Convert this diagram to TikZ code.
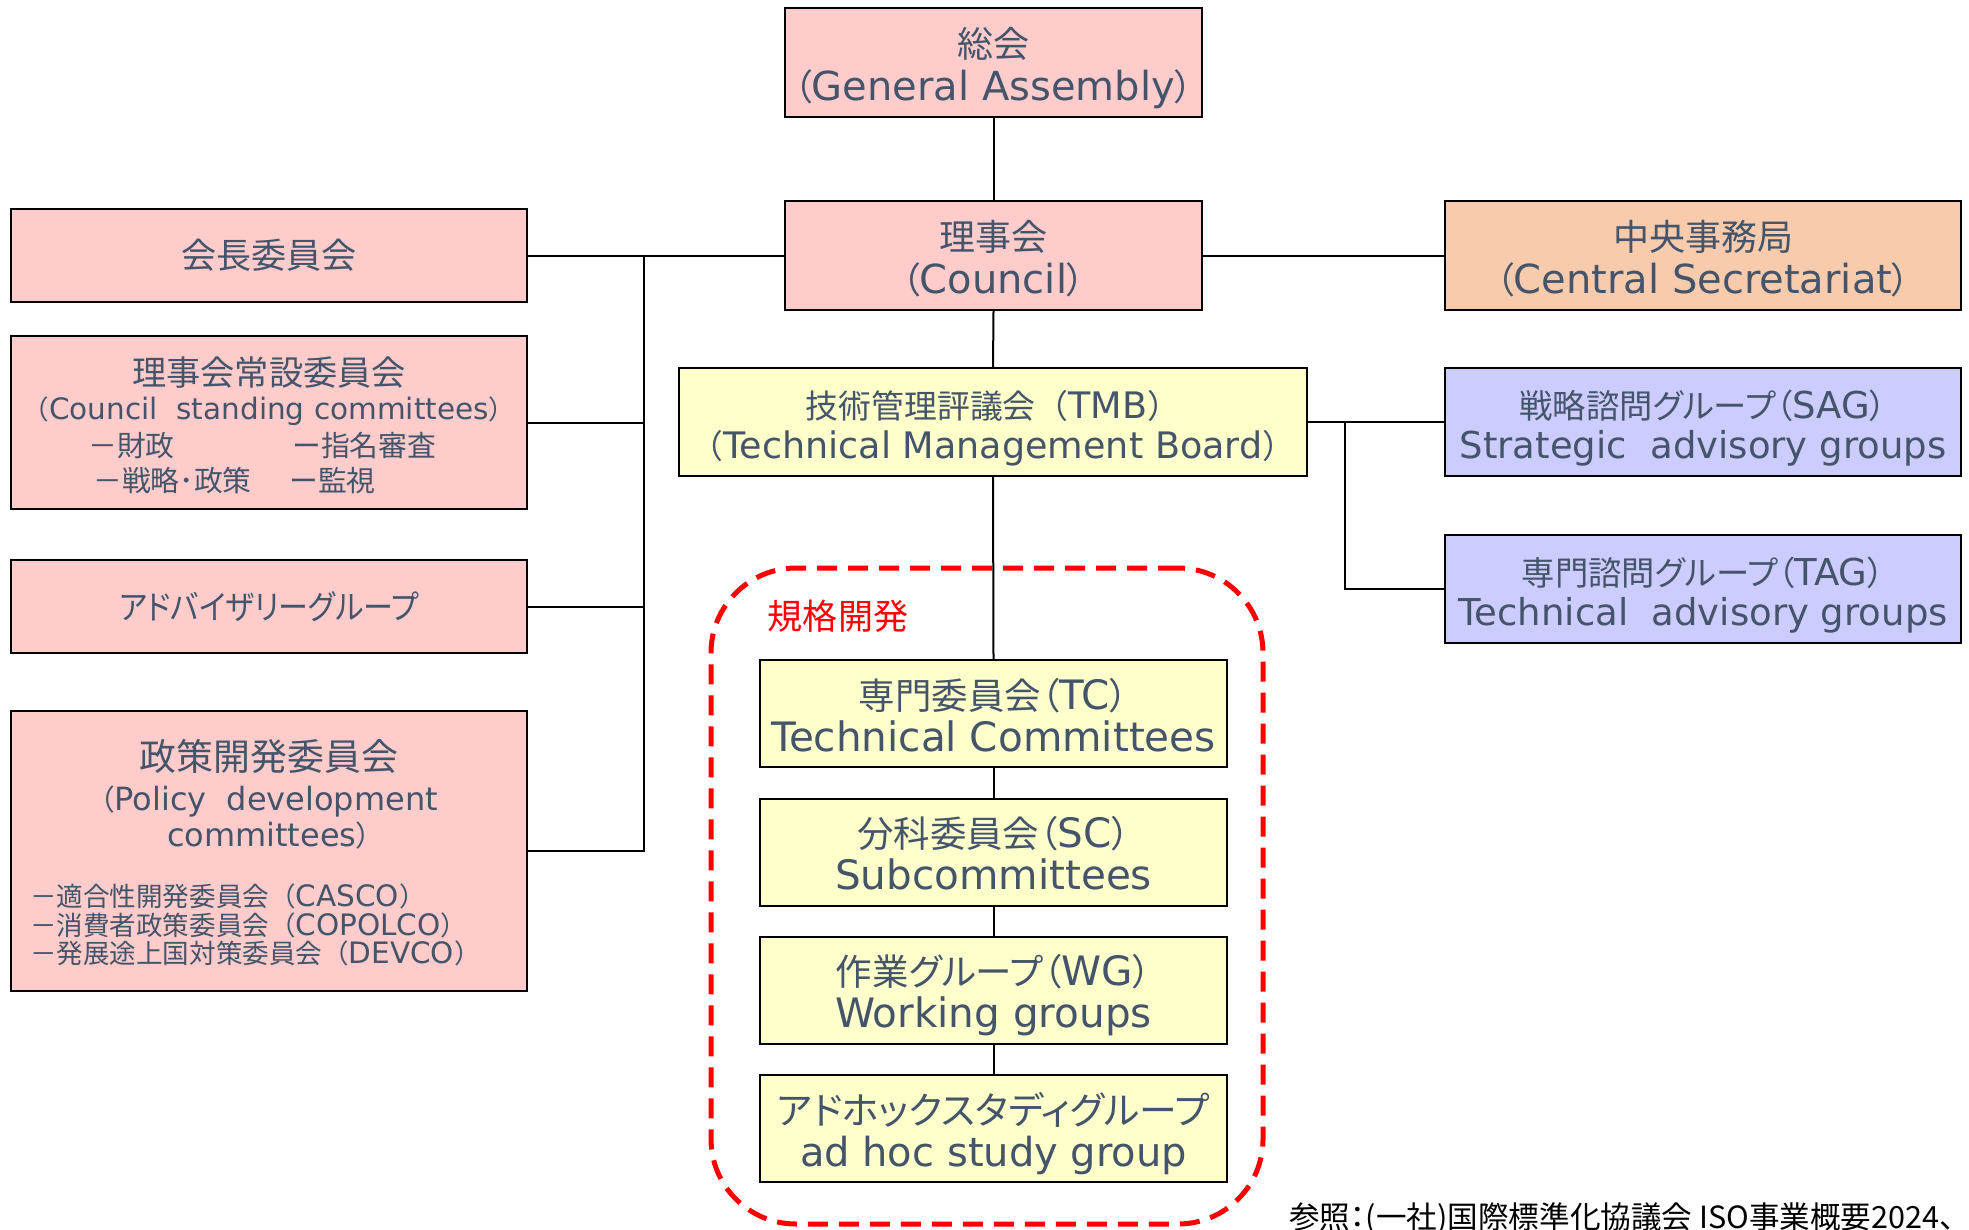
\documentclass[tikz,border=0pt]{standalone}
\usepackage{fontspec}
\setmainfont{DejaVu Sans}
\newfontfamily\jpfont[Scale=0.9]{Noto Sans CJK JP}
\newfontfamily\jppfont[Scale=0.9,RawFeature=+palt]{Noto Sans CJK JP}
\newcommand\jt[1]{{\jpfont #1}}
\newcommand\kt[1]{{\jppfont #1}}
\newcommand\fsz[2]{\fontsize{#1}{#2}\selectfont}
\newcommand\hst[1]{\rule{0pt}{#1pt}}
\newcommand\dst[1]{\rule[-#1pt]{0pt}{#1pt}}
\definecolor{txt}{HTML}{44546A}
\definecolor{pinkc}{HTML}{FFCCCC}
\definecolor{orangec}{HTML}{F8CBAD}
\definecolor{yellowc}{HTML}{FFFFCC}
\definecolor{lavc}{HTML}{CCCCFF}
\definecolor{devred}{HTML}{FF0000}
\begin{document}
\begin{tikzpicture}[x=1pt,y=-1pt,
  box/.style={draw=black, line width=2pt, text=txt, align=center, inner sep=0pt},
  pbox/.style={box, fill=pinkc},
  obox/.style={box, fill=orangec},
  ybox/.style={box, fill=yellowc},
  lbox/.style={box, fill=lavc},
  lbl/.style={text=txt, inner sep=0pt, align=center},
  conn/.style={draw=black, line width=2pt},
  devframe/.style={draw=devred, line width=5pt, dash pattern=on 20pt off 11pt, rounded corners=85pt, inner sep=0pt}
]
\useasboundingbox (0,0) rectangle (1969,1229);
\fill[white] (0,0) rectangle (1969,1229);

% dashed frame
\node[devframe, minimum width=552, minimum height=656] (dev) at (987,896) {};
\node[text=devred, inner sep=0pt, font=\fsz{39}{39}] (devlbl) at (838,616) {\jt{規格開発}};

% top column
\node[pbox, minimum width=417, minimum height=109, font=\fsz{40}{43}] (ga) at (993.5,62.5)
  {\hst{43}\jt{総会}\\\kt{（}General Assembly\kt{）}\dst{10}};
\node[pbox, minimum width=417, minimum height=109, font=\fsz{40}{43}] (council) at (993.5,255.5)
  {\hst{42}\jt{理事会}\\\kt{（}Council\kt{）}\dst{10}};
\node[obox, minimum width=516, minimum height=109, font=\fsz{40}{43}] (cs) at (1703,255.5)
  {\hst{43}\jt{中央事務局}\\\kt{（}Central Secretariat\kt{）}\dst{10}};

% left column
\node[pbox, minimum width=516, minimum height=93, font=\fsz{39}{43}] (pres) at (269,255.5)
  {\jt{会長委員会}};
\node[pbox, minimum width=516, minimum height=173] (stand) at (269,422.5) {};
\node[lbl, font=\fsz{38}{38}] (standT) at (269,373) {\jt{理事会常設委員会}};
\node[lbl, font=\fsz{29.5}{30}] (standE) at (269,411) {\jt{（}Council\ \ standing committees\jt{）}};
\node[lbl, anchor=west, font=\fsz{32}{32}] (s1) at (88,446) {\jt{－財政}};
\node[lbl, anchor=west, font=\fsz{32}{32}] (s2) at (292,446) {\jt{ー指名審査}};
\node[lbl, anchor=west, font=\fsz{32}{32}] (s3) at (93,481) {\jt{－戦略･政策}};
\node[lbl, anchor=west, font=\fsz{32}{32}] (s4) at (289,481) {\jt{ー監視}};

\node[pbox, minimum width=516, minimum height=93, font=\fsz{37}{40}] (adv) at (269,606.5)
  {\scalebox{0.9}[1]{\kt{アドバイザリーグループ}}};

\node[pbox, minimum width=516, minimum height=280] (policy) at (269,851) {};
\node[lbl, font=\fsz{41}{41}] (polT) at (269,756) {\jt{政策開発委員会}};
\node[lbl, font=\fsz{32}{36}] (polE) at (269,818) {\kt{（}Policy\ \ development\\committees\kt{）}};
\node[lbl, anchor=west, font=\fsz{29.5}{29}] (p1) at (30,896) {\jt{－適合性開発委員会（}CASCO\jt{）}};
\node[lbl, anchor=west, font=\fsz{29.5}{29}] (p2) at (30,925) {\jt{－消費者政策委員会（}COPOLCO\jt{）}};
\node[lbl, anchor=west, font=\fsz{29.5}{29}] (p3) at (30,953) {\jt{－発展途上国対策委員会（}DEVCO\jt{）}};

% TMB and advisory groups
\node[ybox, minimum width=628, minimum height=108, font=\fsz{36.5}{40}] (tmb) at (993,422)
  {\hst{42}\jt{技術管理評議会（}TMB\jt{）}\\\jt{（}Technical Management Board\jt{）}\dst{10}};
\node[lbox, minimum width=516, minimum height=108, font=\fsz{37}{40}] (sag) at (1703,422)
  {\hst{42}\kt{戦略諮問グループ（}SAG\kt{）}\\Strategic\ \ advisory groups\dst{10}};
\node[lbox, minimum width=516, minimum height=108, font=\fsz{37}{40}] (tag) at (1703,589)
  {\hst{42}\kt{専門諮問グループ（}TAG\kt{）}\\Technical\ \ advisory groups\dst{10}};

% standards development
\node[ybox, minimum width=467, minimum height=107, font=\fsz{40.5}{42}] (tc) at (993.5,713.5)
  {\hst{44}\kt{専門委員会（}TC\kt{）}\\Technical Committees\dst{10}};
\node[ybox, minimum width=467, minimum height=107, font=\fsz{40.5}{42}] (sc) at (993.5,852)
  {\hst{43.5}\kt{分科委員会（}SC\kt{）}\\Subcommittees\dst{10}};
\node[ybox, minimum width=467, minimum height=107, font=\fsz{40.5}{42}] (wg) at (993.5,990)
  {\hst{43.5}\kt{作業グループ（}WG\kt{）}\\Working groups\dst{10}};
\node[ybox, minimum width=467, minimum height=107, font=\fsz{40}{42}] (ah) at (993.5,1128.5)
  {\hst{43}{\fsz{42}{42}\kt{アドホックスタディグループ}}\\ad hoc study group\dst{10}};

% source note
\node[anchor=base west, inner sep=0pt, text=black, font=\fsz{34}{34}] (src) at (1289,1228)
  {\kt{参照：(一社)国際標準化協議会 ISO事業概要2024、}};

% connectors
\coordinate (tl) at (644,255.5);
\coordinate (tr) at (1345,422);
\draw[conn] (ga.south) -- (council.north);
\draw[conn] (council.west) -- (pres.east);
\draw[conn] (council.east) -- (cs.west);
\draw[conn] (tl) -- (tl |- policy.east) -- (policy.east);
\draw[conn] (tl |- stand.east) -- (stand.east);
\draw[conn] (tl |- adv.east) -- (adv.east);
\draw[conn] (council.south) -- (tmb.north);
\draw[conn] (tmb.east) -- (sag.west);
\draw[conn] (tr) |- (tag.west);
\draw[conn] (tmb.south) -- (tc.north);
\draw[conn] (tc.south) -- (sc.north);
\draw[conn] (sc.south) -- (wg.north);
\draw[conn] (wg.south) -- (ah.north);
\end{tikzpicture}
\end{document}
